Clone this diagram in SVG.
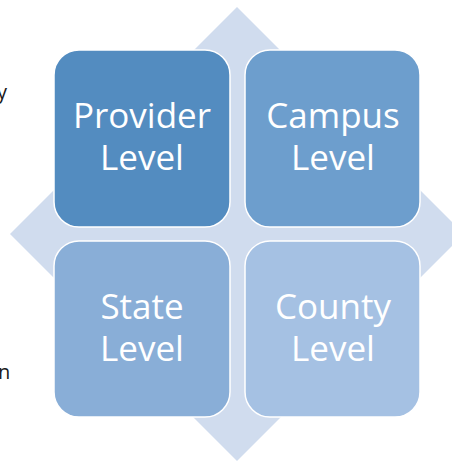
<svg xmlns="http://www.w3.org/2000/svg" width="452" height="462" viewBox="0 0 452 462">
<style>
.box{stroke:#ffffff;stroke-width:1.5}
.lbl{font-family:"Open Sans","DejaVu Sans",sans-serif;font-size:35px;fill:#ffffff;text-anchor:middle}
.side{font-family:"Open Sans","DejaVu Sans",sans-serif;font-size:20px;fill:#1a1a1a}
</style>
<rect width="452" height="462" fill="#ffffff"/>
<text class="side" x="-3" y="99">y</text>
<text class="side" x="-2" y="379">n</text>
<polygon id="diamond" points="237,7 464,234 237,461 10,234" fill="#d0dcee"/>
<g id="connectors"/>
<g id="provider">
<rect class="box" x="54" y="50" width="176" height="177" rx="25" fill="#538cc0"/>
<text class="lbl" x="142" y="128">Provider</text>
<text class="lbl" x="142" y="170">Level</text>
</g>
<g id="campus">
<rect class="box" x="245" y="50" width="175" height="177" rx="25" fill="#6d9ecd"/>
<text class="lbl" x="333" y="128">Campus</text>
<text class="lbl" x="333" y="170">Level</text>
</g>
<g id="state">
<rect class="box" x="54" y="241" width="176" height="176" rx="25" fill="#89aed7"/>
<text class="lbl" x="142" y="319">State</text>
<text class="lbl" x="142" y="361">Level</text>
</g>
<g id="county">
<rect class="box" x="245" y="241" width="175" height="176" rx="25" fill="#a5c1e3"/>
<text class="lbl" x="333" y="319">County</text>
<text class="lbl" x="333" y="361">Level</text>
</g>
</svg>
